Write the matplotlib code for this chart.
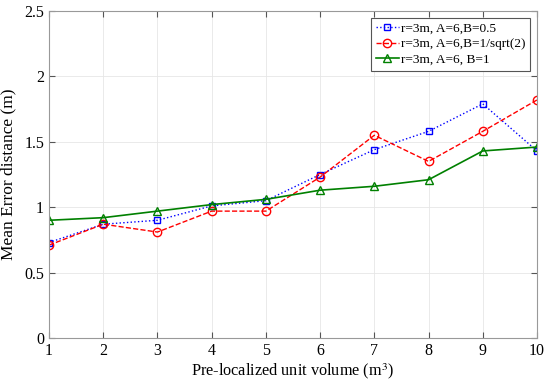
import numpy as np
import matplotlib.pyplot as plt

volume = [1, 2, 3, 4, 5, 6, 7, 8, 9, 10]
err_b05 = [0.73, 0.87, 0.90, 1.01, 1.05, 1.25, 1.44, 1.58, 1.79, 1.43]
err_bsqrt = [0.71, 0.87, 0.81, 0.97, 0.97, 1.23, 1.55, 1.35, 1.58, 1.82]
err_b1 = [0.90, 0.92, 0.97, 1.02, 1.06, 1.13, 1.16, 1.21, 1.43, 1.46]

plt.rcParams["font.family"] = ["Liberation Serif", "DejaVu Serif"]
plt.rcParams["mathtext.fontset"] = "stix"

fig = plt.figure(figsize=(5.5, 3.84), dpi=100)
ax = fig.add_axes([49 / 550, 1 - 338 / 384, 488 / 550, 327 / 384])

ax.plot(volume, err_b05, color="blue", linestyle=":", linewidth=1.0, marker="s",
        markersize=5, markerfacecolor="none", markeredgewidth=1.0,
        label="r=3m, A=6,B=0.5")
ax.plot(volume, err_bsqrt, color="red", linestyle="--", linewidth=1.0, marker="o",
        markersize=6, markerfacecolor="none", markeredgewidth=1.0,
        label="r=3m, A=6,B=1/sqrt(2)")
ax.plot(volume, err_b1, color="green", linestyle="-", linewidth=1.2, marker="^",
        markersize=6, markerfacecolor="none", markeredgewidth=1.0,
        label="r=3m, A=6, B=1")

ax.set_xlim(1, 10)
ax.set_ylim(0, 2.5)
ax.set_xticks(range(1, 11))
ax.set_yticks([0, 0.5, 1, 1.5, 2, 2.5])
ax.set_yticklabels(["0", "0.5", "1", "1.5", "2", "2.5"])
ax.grid(True, color="#e6e6e6", linewidth=0.6)
ax.tick_params(direction="in", top=True, right=True, labelsize=11.5, color="#555555",
               length=4)
for s in ax.spines.values():
    s.set_color("#999999")
    s.set_linewidth(0.8)

ax.set_xlabel("Pre-localized unit volume (m$^3$)", fontsize=11.7, labelpad=2)
ax.set_ylabel("Mean Error distance (m)", fontsize=12.5, labelpad=6)

leg = ax.legend(loc="upper right", fontsize=9.6, fancybox=False, framealpha=1,
                edgecolor="#555555", handlelength=1.7, borderpad=0.35,
                labelspacing=0.25, handletextpad=0.2, borderaxespad=0.5)
leg.get_frame().set_linewidth(0.8)

fig.savefig("out.png", dpi=100)
